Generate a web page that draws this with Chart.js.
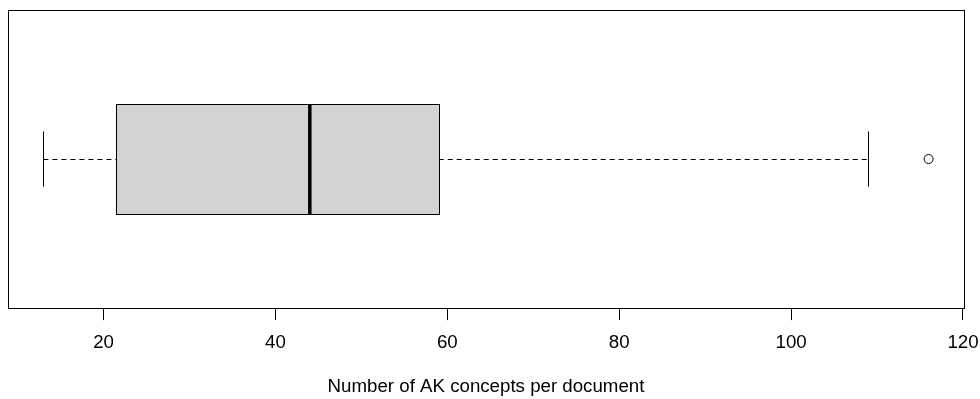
<!DOCTYPE html>
<html>
<head>
<meta charset="utf-8">
<title>AK concepts per document</title>
<script src="https://cdn.jsdelivr.net/npm/chart.js@4"></script>
<style>
  html, body { margin: 0; padding: 0; background: #fff; }
  #wrap { width: 980px; height: 399px; }
</style>
</head>
<body>
<div id="wrap"><canvas id="chart"></canvas></div>
<script>
// box statistics
const categories = ['AK concepts'];
const whiskerLow = [13];
const lowerQuartile = [21.5];
const medians = [44];
const upperQuartile = [59];
const whiskerHigh = [109];
const outliers = [116];
const xTicks = [20, 40, 60, 80, 100, 120];
const axisTitle = 'Number of AK concepts per document';

// R style axis range: data range plus 4% on each side
const dataLo = Math.min(...whiskerLow, ...outliers);
const dataHi = Math.max(...whiskerHigh, ...outliers);
const pad = (dataHi - dataLo) * 0.04;

Chart.defaults.font.family = '"Liberation Sans", Arial, sans-serif';
Chart.defaults.color = '#000';

// draws the box, whiskers and frame through the chart's scales
const boxPlugin = {
    id: 'boxPlot',
    beforeDatasetsDraw(chart) {
        const ctx = chart.ctx;
        const xs = chart.scales.x;
        const ys = chart.scales.y;
        categories.forEach((cat, i) => {
            const pos = i + 1;
            const yc = ys.getPixelForValue(pos);
            const yTop = ys.getPixelForValue(pos + 0.2);
            const yBot = ys.getPixelForValue(pos - 0.2);
            const capTop = ys.getPixelForValue(pos + 0.1);
            const capBot = ys.getPixelForValue(pos - 0.1);
            const xLo = xs.getPixelForValue(whiskerLow[i]);
            const xQ1 = xs.getPixelForValue(lowerQuartile[i]);
            const xMed = xs.getPixelForValue(medians[i]);
            const xQ3 = xs.getPixelForValue(upperQuartile[i]);
            const xHi = xs.getPixelForValue(whiskerHigh[i]);

            ctx.save();
            ctx.strokeStyle = '#000';
            ctx.lineWidth = 1;

            // whiskers (dashed)
            ctx.setLineDash([5, 4]);
            ctx.beginPath();
            ctx.moveTo(xLo, Math.round(yc) + 0.5);
            ctx.lineTo(xQ1, Math.round(yc) + 0.5);
            ctx.moveTo(xQ3, Math.round(yc) + 0.5);
            ctx.lineTo(xHi, Math.round(yc) + 0.5);
            ctx.stroke();
            ctx.setLineDash([]);

            // staples
            ctx.beginPath();
            ctx.moveTo(Math.round(xLo) + 0.5, capTop);
            ctx.lineTo(Math.round(xLo) + 0.5, capBot);
            ctx.moveTo(Math.round(xHi) + 0.5, capTop);
            ctx.lineTo(Math.round(xHi) + 0.5, capBot);
            ctx.stroke();

            // box
            const bx = Math.round(xQ1) + 0.5;
            const by = Math.round(yTop) + 0.5;
            const bw = Math.round(xQ3) - Math.round(xQ1);
            const bh = Math.round(yBot) - Math.round(yTop);
            ctx.fillStyle = '#d3d3d3';
            ctx.fillRect(bx, by, bw, bh);
            ctx.strokeRect(bx, by, bw, bh);

            // median
            ctx.lineWidth = 3.5;
            ctx.beginPath();
            ctx.moveTo(xMed, by);
            ctx.lineTo(xMed, by + bh);
            ctx.stroke();
            ctx.restore();
        });
    },
    afterDraw(chart) {
        const a = chart.chartArea;
        const ctx = chart.ctx;
        ctx.save();
        ctx.strokeStyle = '#000';
        ctx.lineWidth = 1;
        ctx.strokeRect(Math.round(a.left) + 0.5, Math.round(a.top) + 0.5,
            Math.round(a.right - a.left), Math.round(a.bottom - a.top));
        ctx.restore();
    }
};

new Chart(document.getElementById('chart'), {
    type: 'scatter',
    data: {
        datasets: [{
            label: 'outliers',
            data: outliers.map(v => ({ x: v, y: 1 })),
            pointStyle: 'circle',
            pointRadius: 4.5,
            pointBorderWidth: 1,
            pointBorderColor: '#000',
            pointBackgroundColor: '#fff',
            showLine: false
        }]
    },
    options: {
        responsive: true,
        maintainAspectRatio: false,
        animation: false,
        layout: { padding: { left: 8, right: 16, top: 10, bottom: 1 } },
        plugins: {
            legend: { display: false },
            tooltip: { enabled: false }
        },
        scales: {
            x: {
                type: 'linear',
                min: dataLo - pad,
                max: dataHi + pad,
                afterBuildTicks: (axis) => {
                    axis.ticks = xTicks.map(v => ({ value: v }));
                },
                // labels may hang over the edges, as in the original
                afterFit: (axis) => {
                    axis.paddingLeft = 0;
                    axis.paddingRight = 0;
                },
                ticks: {
                    autoSkip: false,
                    maxRotation: 0,
                    padding: 12,
                    font: { size: 18.7 },
                    color: '#000'
                },
                grid: {
                    drawOnChartArea: false,
                    drawTicks: true,
                    tickLength: 12,
                    color: '#000',
                    lineWidth: 1
                },
                border: { display: false },
                title: {
                    display: true,
                    text: axisTitle,
                    font: { size: 18.7 },
                    color: '#000',
                    padding: { top: 9, bottom: 0 }
                }
            },
            y: {
                type: 'linear',
                display: false,
                min: 0.46,
                max: 1.54
            }
        }
    },
    plugins: [boxPlugin]
});
</script>
</body>
</html>
